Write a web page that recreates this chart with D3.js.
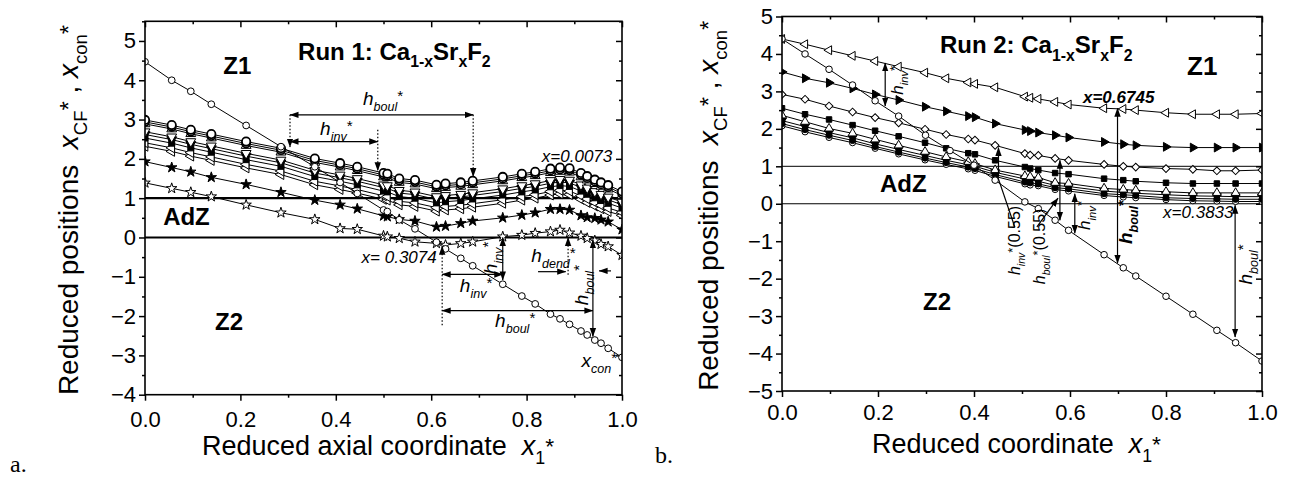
<!DOCTYPE html>
<html>
<head>
<meta charset="utf-8">
<script src="https://d3js.org/d3.v7.min.js"></script>
<style>
  body { margin: 0; background: #fff; }
  text { font-family: "Liberation Sans", Arial, sans-serif; fill: #000; }
</style>
</head>
<body>
<script>
// ---------- panel a (Run 1) ----------
var xA = [0, 0.056, 0.096, 0.139, 0.212, 0.285, 0.356, 0.409, 0.445, 0.5, 0.508, 0.533, 0.566, 0.611, 0.63,
          0.662, 0.687, 0.75, 0.79, 0.818, 0.85, 0.87, 0.89, 0.914, 0.927, 0.943, 0.956, 0.971, 1.0];
var conA = [4.47, 4.0, 3.72, 3.39, 2.85, 2.31, 1.80, 1.40, 1.12, 0.70, 0.66, 0.45, 0.22, -0.12, -0.29,
            -0.53, -0.72, -1.19, -1.49, -1.69, -1.95, -2.07, -2.21, -2.38, -2.48, -2.61, -2.69, -2.82, -3.05];
var cA1 = [2.99, 2.86, 2.74, 2.63, 2.44, 2.27, 2.01, 1.89, 1.80, 1.64, 1.62, 1.50, 1.46, 1.34, 1.37,
           1.40, 1.44, 1.54, 1.62, 1.67, 1.75, 1.78, 1.76, 1.64, 1.56, 1.47, 1.40, 1.33, 1.17];
var cA2 = [2.94, 2.81, 2.69, 2.58, 2.39, 2.22, 1.96, 1.84, 1.75, 1.59, 1.57, 1.45, 1.41, 1.29, 1.32,
           1.35, 1.39, 1.49, 1.57, 1.62, 1.70, 1.73, 1.71, 1.59, 1.51, 1.42, 1.35, 1.28, 1.12];
var cA3 = [2.89, 2.76, 2.64, 2.53, 2.34, 2.17, 1.91, 1.79, 1.70, 1.54, 1.52, 1.40, 1.36, 1.24, 1.27,
           1.30, 1.34, 1.44, 1.52, 1.57, 1.65, 1.68, 1.66, 1.54, 1.46, 1.37, 1.30, 1.23, 1.07];
var cA4 = [2.69, 2.56, 2.44, 2.33, 2.14, 1.97, 1.71, 1.59, 1.50, 1.34, 1.32, 1.20, 1.16, 1.04, 1.07,
           1.10, 1.14, 1.24, 1.32, 1.37, 1.45, 1.48, 1.46, 1.34, 1.26, 1.17, 1.10, 1.03, 0.90];
var cA5 = [2.62, 2.49, 2.37, 2.26, 2.07, 1.90, 1.64, 1.52, 1.43, 1.27, 1.25, 1.13, 1.09, 0.97, 1.00,
           1.03, 1.07, 1.17, 1.25, 1.30, 1.38, 1.41, 1.39, 1.27, 1.19, 1.10, 1.03, 0.96, 0.83];
var cA6 = [2.53, 2.40, 2.28, 2.17, 1.98, 1.81, 1.55, 1.43, 1.34, 1.18, 1.16, 1.04, 1.00, 0.88, 0.91,
           0.94, 0.98, 1.08, 1.16, 1.21, 1.29, 1.32, 1.30, 1.18, 1.10, 1.01, 0.94, 0.87, 0.75];
var cA7 = [2.41, 2.28, 2.16, 2.05, 1.86, 1.69, 1.43, 1.31, 1.22, 1.06, 1.04, 0.92, 0.88, 0.76, 0.79,
           0.82, 0.86, 0.96, 1.04, 1.09, 1.17, 1.20, 1.18, 1.06, 0.98, 0.89, 0.82, 0.75, 0.64];
var cA8 = [2.32, 2.19, 2.07, 1.96, 1.77, 1.60, 1.34, 1.22, 1.13, 0.97, 0.95, 0.83, 0.79, 0.67, 0.70,
           0.73, 0.77, 0.87, 0.95, 1.00, 1.08, 1.11, 1.09, 0.97, 0.89, 0.80, 0.73, 0.66, 0.56];
var starFA = [1.93, 1.78, 1.67, 1.53, 1.35, 1.15, 0.95, 0.83, 0.73, 0.55, 0.53, 0.46, 0.42, 0.27, 0.29,
              0.36, 0.42, 0.50, 0.57, 0.63, 0.72, 0.72, 0.70, 0.56, 0.51, 0.49, 0.45, 0.40, 0.20];
var starOA = [1.39, 1.25, 1.15, 1.04, 0.83, 0.63, 0.46, 0.23, 0.21, 0.04, 0.02, -0.02, -0.11, -0.15, -0.19,
              -0.15, -0.11, 0.02, 0.06, 0.11, 0.15, 0.19, 0.12, 0.04, -0.02, -0.08, -0.17, -0.23, -0.45];

// ---------- panel b (Run 2) ----------
var xB = [0, 0.048, 0.098, 0.147, 0.194, 0.243, 0.298, 0.342, 0.388, 0.402, 0.444, 0.506, 0.517, 0.534,
          0.569, 0.597, 0.671, 0.711, 0.737, 0.80, 0.856, 0.906, 0.945, 1.0];
var xConB = [0, 0.048, 0.098, 0.147, 0.194, 0.243, 0.299, 0.35, 0.40, 0.444, 0.506, 0.534, 0.569, 0.597,
             0.671, 0.711, 0.737, 0.80, 0.856, 0.906, 0.945, 1.0];
var conB = [4.40, 4.0, 3.59, 3.17, 2.75, 2.34, 1.83, 1.42, 1.03, 0.63, 0.05, -0.13, -0.44, -0.71,
            -1.36, -1.71, -1.93, -2.47, -2.95, -3.38, -3.71, -4.2];
var tB1 = [4.40, 4.26, 4.10, 3.95, 3.81, 3.66, 3.50, 3.35, 3.24, 3.20, 3.11, 2.86, 2.83, 2.80,
           2.72, 2.65, 2.55, 2.53, 2.50, 2.43, 2.39, 2.39, 2.39, 2.41];
var tB2 = [3.52, 3.35, 3.23, 3.08, 2.92, 2.77, 2.59, 2.47, 2.34, 2.31, 2.14, 1.97, 1.94, 1.90,
           1.83, 1.77, 1.65, 1.59, 1.56, 1.52, 1.50, 1.50, 1.50, 1.50];
var tB3 = [2.92, 2.79, 2.61, 2.45, 2.30, 2.16, 1.99, 1.85, 1.73, 1.70, 1.56, 1.34, 1.30, 1.29,
           1.21, 1.16, 1.05, 1.00, 0.98, 0.94, 0.92, 0.88, 0.88, 0.90];
var tB4 = [2.55, 2.39, 2.25, 2.10, 1.95, 1.80, 1.63, 1.48, 1.35, 1.32, 1.16, 0.98, 0.94, 0.90,
           0.82, 0.79, 0.67, 0.63, 0.60, 0.56, 0.54, 0.54, 0.54, 0.54];
var tB5 = [2.36, 2.19, 2.01, 1.88, 1.72, 1.56, 1.39, 1.25, 1.12, 1.07, 0.90, 0.74, 0.72, 0.70,
           0.56, 0.54, 0.41, 0.38, 0.36, 0.32, 0.29, 0.29, 0.29, 0.29];
var tB6 = [2.22, 2.06, 1.90, 1.76, 1.60, 1.45, 1.29, 1.16, 1.04, 1.00, 0.84, 0.66, 0.63, 0.60,
           0.49, 0.46, 0.34, 0.30, 0.28, 0.24, 0.21, 0.20, 0.19, 0.19];
var tB7 = [2.14, 1.98, 1.83, 1.69, 1.53, 1.38, 1.22, 1.10, 0.98, 0.94, 0.78, 0.58, 0.56, 0.53,
           0.43, 0.40, 0.27, 0.24, 0.22, 0.16, 0.14, 0.13, 0.12, 0.12];
var tB8 = [2.08, 1.92, 1.77, 1.63, 1.48, 1.33, 1.17, 1.05, 0.93, 0.89, 0.73, 0.53, 0.50, 0.48,
           0.38, 0.34, 0.22, 0.18, 0.16, 0.11, 0.08, 0.07, 0.06, 0.06];

// ticks
var xTicks = [0, 0.2, 0.4, 0.6, 0.8, 1.0];
var xMinor = [0.1, 0.3, 0.5, 0.7, 0.9];
var yTicksA = [-4, -3, -2, -1, 0, 1, 2, 3, 4, 5];
var yTicksB = [-5, -4, -3, -2, -1, 0, 1, 2, 3, 4, 5];

var W = 1289, H = 477;
var svg = d3.select("body").append("svg").attr("width", W).attr("height", H);
var defs = svg.append("defs");
defs.append("marker").attr("id", "ah")
    .attr("viewBox", "0 -4 9 8").attr("refX", 8.5).attr("refY", 0)
    .attr("markerWidth", 9).attr("markerHeight", 8).attr("markerUnits", "userSpaceOnUse")
    .attr("orient", "auto-start-reverse")
  .append("path").attr("d", "M0,-3.2L9,0L0,3.2Z").attr("fill", "#000");

var shapes = {
  circle: [d3.symbolCircle, 0], up: [d3.symbolTriangle, 0], down: [d3.symbolTriangle, 180],
  left: [d3.symbolTriangle, -90], right: [d3.symbolTriangle, 90], square: [d3.symbolSquare, 0],
  diamond: [d3.symbolSquare, 45], star: [d3.symbolStar, 0]
};

// text with sub / superscripts
function addText(g, px, py, parts, fs, opt) {
  opt = opt || {};
  var t = g.append("text").attr("x", px).attr("y", py)
    .attr("font-size", fs).attr("text-anchor", opt.anchor || "start")
    .style("white-space", "pre");
  if (opt.bold) t.attr("font-weight", "bold");
  if (opt.italic) t.attr("font-style", "italic");
  if (opt.family) t.style("font-family", opt.family);
  if (opt.rot) t.attr("transform", "rotate(" + opt.rot + "," + px + "," + py + ")");
  var off = 0;
  parts.forEach(function(p) {
    if (typeof p === "string") p = {t: p};
    var target = p.sub ? fs * 0.32 : (p.sup ? -fs * (p.up || 0.05) : 0);
    var ts = t.append("tspan").attr("dy", target - off).text(p.t);
    if (p.sub || p.sup) ts.attr("font-size", fs * (p.k || 0.66));
    if (p.i) ts.attr("font-style", "italic");
    if (p.n) ts.attr("font-style", "normal");
    off = target;
  });
  return t;
}

function hLabel(sub) {
  return [{t: "h", i: 1}, {t: sub, sub: 1, i: 1}, {t: "*", sup: 1, k: 0.8, up: 0.22}];
}

function panel(o) {
  var x = d3.scaleLinear().domain([0, 1]).range([o.left, o.right]);
  var y = d3.scaleLinear().domain(o.ydom).range([o.bottom, o.top]);
  var g = svg.append("g");

  defs.append("clipPath").attr("id", o.id + "clip")
    .append("rect").attr("x", o.left).attr("y", o.top)
    .attr("width", o.right - o.left).attr("height", o.bottom - o.top);

  // axes
  var yMinor = d3.range(o.ydom[0], o.ydom[1] + 0.01, 0.5).filter(function(v) { return v % 1 !== 0; });
  function style(a) {
    a.select(".domain").remove();
    a.selectAll("line").attr("stroke", "#000").attr("stroke-width", 1.5);
    a.selectAll("text").attr("font-size", 22).style("font-family", '"Liberation Sans", Arial, sans-serif');
  }
  g.append("g").attr("transform", "translate(0," + o.bottom + ")")
    .call(d3.axisBottom(x).tickValues(xTicks).tickFormat(d3.format(".1f")).tickSize(6).tickPadding(o.xpad))
    .call(style);
  g.append("g").attr("transform", "translate(0," + o.bottom + ")")
    .call(d3.axisBottom(x).tickValues(xMinor).tickFormat("").tickSize(3)).call(style);
  g.append("g").attr("transform", "translate(" + o.left + ",0)")
    .call(d3.axisLeft(y).tickValues(o.yticks).tickFormat(d3.format("d")).tickSize(6).tickPadding(3))
    .call(style);
  g.append("g").attr("transform", "translate(" + o.left + ",0)")
    .call(d3.axisLeft(y).tickValues(yMinor).tickFormat("").tickSize(3)).call(style);
  g.append("g").attr("transform", "translate(0," + o.top + ")")
    .call(d3.axisTop(x).tickValues(xTicks).tickFormat("").tickSize(-6)).call(style);
  g.append("g").attr("transform", "translate(0," + o.top + ")")
    .call(d3.axisTop(x).tickValues(xMinor).tickFormat("").tickSize(-3)).call(style);
  g.append("g").attr("transform", "translate(" + o.right + ",0)")
    .call(d3.axisRight(y).tickValues(o.yticks).tickFormat("").tickSize(-6)).call(style);
  g.append("g").attr("transform", "translate(" + o.right + ",0)")
    .call(d3.axisRight(y).tickValues(yMinor).tickFormat("").tickSize(-3)).call(style);

  // reference lines y = 0 and y = 1
  g.selectAll("line.ref").data([0, 1]).enter().append("line")
    .attr("x1", o.left).attr("x2", o.right)
    .attr("y1", function(d) { return y(d); }).attr("y2", function(d) { return y(d); })
    .attr("stroke", "#000").attr("stroke-width", o.refW);

  var plot = g.append("g").attr("clip-path", "url(#" + o.id + "clip)");
  var line = d3.line().x(function(d) { return x(d[0]); }).y(function(d) { return y(d[1]); });

  o.series.forEach(function(s) {
    var pts = s.xs.map(function(v, i) { return [v, s.ys[i]]; });
    plot.append("path").datum(pts).attr("d", line)
      .attr("fill", "none").attr("stroke", "#000").attr("stroke-width", 1);
    var sh = shapes[s.shape];
    plot.selectAll(null).data(pts).enter().append("path")
      .attr("d", d3.symbol().type(sh[0]).size(s.size))
      .attr("transform", function(d) { return "translate(" + x(d[0]) + "," + y(d[1]) + ") rotate(" + sh[1] + ")"; })
      .attr("fill", s.fill).attr("stroke", "#000").attr("stroke-width", s.sw || 1);
  });

  // arrows
  o.arrows.forEach(function(a) {
    var l = g.append("line")
      .attr("x1", x(a.x1)).attr("y1", y(a.y1)).attr("x2", x(a.x2)).attr("y2", y(a.y2))
      .attr("stroke", "#000").attr("stroke-width", 1.2);
    if (a.dash) l.attr("stroke-dasharray", "1.5,2");
    if (a.s) l.attr("marker-start", "url(#ah)");
    if (a.e) l.attr("marker-end", "url(#ah)");
  });

  o.labels.forEach(function(L) {
    addText(g, x(L.x), y(L.y), L.parts, L.fs, L);
  });

  // axis titles
  addText(g, o.xtX, o.xtY, ["Reduced " + o.xtitle + "coordinate\u00a0 ", {t: "x", i: 1}, {t: "1", sub: 1},
    {t: "*", sup: 1, k: 0.85}], 27);
  addText(g, o.ytX, (o.top + o.bottom) / 2 + 2,
    ["Reduced positions\u00a0 ", {t: "x", i: 1}, {t: "CF", sub: 1}, {t: "*", sup: 1, k: 0.85}, {t: " , "},
     {t: "x", i: 1}, {t: "con", sub: 1}, {t: "*", sup: 1, k: 0.85}], 28, {anchor: "middle", rot: -90});

  // frame
  g.append("rect").attr("x", o.left).attr("y", o.top)
    .attr("width", o.right - o.left).attr("height", o.bottom - o.top)
    .attr("fill", "none").attr("stroke", "#000").attr("stroke-width", 1.6);
}

var runA = ["Run 1: Ca", {t: "1-x", sub: 1}, "Sr", {t: "x", sub: 1}, "F", {t: "2", sub: 1}];
var runB = ["Run 2: Ca", {t: "1-x", sub: 1}, "Sr", {t: "x", sub: 1}, "F", {t: "2", sub: 1}];

panel({
  id: "a", left: 145, right: 622, top: 21.3, bottom: 394.7, ydom: [-4, 5.5], yticks: yTicksA,
  xpad: 10.5, refW: 2.2, xtitle: "axial ", xtX: 202, xtY: 455, ytX: 78,
  series: [
    {xs: xA, ys: starOA, shape: "star", fill: "#fff", size: 34},
    {xs: xA, ys: starFA, shape: "star", fill: "#000", size: 34},
    {xs: xA, ys: cA8, shape: "left", fill: "#fff", size: 42},
    {xs: xA, ys: cA7, shape: "left", fill: "#fff", size: 42},
    {xs: xA, ys: cA6, shape: "square", fill: "#000", size: 36},
    {xs: xA, ys: cA5, shape: "down", fill: "#000", size: 42},
    {xs: xA, ys: cA4, shape: "down", fill: "#fff", size: 42},
    {xs: xA, ys: cA3, shape: "up", fill: "#fff", size: 42},
    {xs: xA, ys: cA2, shape: "circle", fill: "#fff", size: 50, sw: 1.8},
    {xs: xA, ys: cA1, shape: "circle", fill: "#fff", size: 55, sw: 1.8},
    {xs: xA, ys: conA, shape: "circle", fill: "#fff", size: 36}
  ],
  arrows: [
    {x1: 0.304, y1: 3.12, x2: 0.688, y2: 3.12, s: 1, e: 1},
    {x1: 0.304, y1: 2.44, x2: 0.488, y2: 2.44, s: 1, e: 1},
    {x1: 0.304, y1: 3.12, x2: 0.304, y2: 2.30, dash: 1, e: 1},
    {x1: 0.488, y1: 2.74, x2: 0.488, y2: 1.70, dash: 1, e: 1},
    {x1: 0.688, y1: 3.12, x2: 0.688, y2: 1.55, dash: 1, e: 1},
    {x1: 0.623, y1: -2.23, x2: 0.623, y2: -0.22, dash: 1, e: 1},
    {x1: 0.623, y1: -0.94, x2: 0.75, y2: -0.94, s: 1, e: 1},
    {x1: 0.75, y1: 0.0, x2: 0.75, y2: -1.08, s: 1, e: 1},
    {x1: 0.623, y1: -1.86, x2: 0.939, y2: -1.86, s: 1, e: 1},
    {x1: 0.939, y1: -0.06, x2: 0.939, y2: -2.52, s: 1, e: 1},
    {x1: 0.887, y1: -0.95, x2: 0.887, y2: 0.0, dash: 1, e: 1},
    {x1: 0.824, y1: -0.87, x2: 0.882, y2: -0.87, e: 1},
    {x1: 0.977, y1: -0.85, x2: 0.952, y2: -0.85, e: 1}
  ],
  labels: [
    {x: 0.164, y: 4.16, parts: ["Z1"], fs: 24, bold: 1},
    {x: 0.321, y: 4.52, parts: runA, fs: 24, bold: 1},
    {x: 0.038, y: 0.32, parts: ["AdZ"], fs: 24, bold: 1},
    {x: 0.147, y: -2.35, parts: ["Z2"], fs: 24, bold: 1},
    {x: 0.832, y: 1.93, parts: ["x=0.0073"], fs: 17, italic: 1},
    {x: 0.454, y: -0.66, parts: ["x= 0.3074"], fs: 17, italic: 1},
    {x: 0.915, y: -3.29, parts: [{t: "x", i: 1}, {t: "con", sub: 1, i: 1}, {t: "*", sup: 1, k: 0.8, up: 0.22}], fs: 19},
    {x: 0.457, y: 3.37, parts: hLabel("boul"), fs: 19},
    {x: 0.367, y: 2.61, parts: hLabel("inv"), fs: 19},
    {x: 0.66, y: -1.38, parts: hLabel("inv"), fs: 19},
    {x: 0.734, y: -2.27, parts: hLabel("boul"), fs: 19},
    {x: 0.81, y: -0.62, parts: hLabel("dend"), fs: 19},
    {x: 0.738, y: -0.52, parts: hLabel("inv"), fs: 19, anchor: "middle", rot: -90},
    {x: 0.929, y: -1.21, parts: hLabel("boul"), fs: 19, anchor: "middle", rot: -90}
  ]
});

panel({
  id: "b", left: 782, right: 1262, top: 16.5, bottom: 391, ydom: [-5, 5], yticks: yTicksB,
  xpad: 7, refW: 1, xtitle: "", xtX: 872, xtY: 453, ytX: 718,
  series: [
    {xs: xB, ys: tB8, shape: "circle", fill: "#fff", size: 30},
    {xs: xB, ys: tB7, shape: "circle", fill: "#000", size: 30},
    {xs: xB, ys: tB6, shape: "down", fill: "#000", size: 34},
    {xs: xB, ys: tB5, shape: "up", fill: "#fff", size: 34},
    {xs: xB, ys: tB4, shape: "square", fill: "#000", size: 30},
    {xs: xB, ys: tB3, shape: "diamond", fill: "#fff", size: 30},
    {xs: xB, ys: tB2, shape: "right", fill: "#000", size: 34},
    {xs: xB, ys: tB1, shape: "left", fill: "#fff", size: 34},
    {xs: xConB, ys: conB, shape: "circle", fill: "#fff", size: 34}
  ],
  arrows: [
    {x1: 0.215, y1: 3.76, x2: 0.215, y2: 2.61, s: 1, e: 1},
    {x1: 0.699, y1: 2.55, x2: 0.699, y2: -1.59, s: 1, e: 1},
    {x1: 0.944, y1: -0.04, x2: 0.944, y2: -3.56, s: 1, e: 1},
    {x1: 0.579, y1: 1.16, x2: 0.579, y2: -0.44, s: 1, e: 1},
    {x1: 0.610, y1: 0.27, x2: 0.610, y2: -0.79, s: 1, e: 1},
    {x1: 0.451, y1: 0.72, x2: 0.451, y2: 1.50, e: 1},
    {x1: 0.447, y1: 0.81, x2: 0.485, y2: -0.62},
    {x1: 0.531, y1: -0.62, x2: 0.575, y2: 0.15, e: 1}
  ],
  labels: [
    {x: 0.329, y: 4.02, parts: runB, fs: 24, bold: 1},
    {x: 0.844, y: 3.44, parts: ["Z1"], fs: 26, bold: 1},
    {x: 0.627, y: 2.69, parts: ["x=0.6745"], fs: 17, bold: 1, italic: 1},
    {x: 0.204, y: 0.32, parts: ["AdZ"], fs: 24, bold: 1},
    {x: 0.294, y: -2.85, parts: ["Z2"], fs: 24, bold: 1},
    {x: 0.794, y: -0.39, parts: ["x=0.3833"], fs: 17, italic: 1},
    {x: 0.252, y: 3.30, parts: hLabel("inv"), fs: 17, anchor: "middle", rot: -90},
    {x: 0.729, y: -0.49, parts: hLabel("boul"), fs: 19, bold: 1, anchor: "middle", rot: -90},
    {x: 0.98, y: -1.62, parts: hLabel("boul"), fs: 19, anchor: "middle", rot: -90},
    {x: 0.642, y: -0.31, parts: hLabel("inv"), fs: 17, anchor: "middle", rot: -90},
    {x: 0.496, y: -0.98, parts: hLabel("inv").concat(["(0.55)"]), fs: 16, anchor: "middle", rot: -90},
    {x: 0.548, y: -1.14, parts: hLabel("boul").concat(["(0.55)"]), fs: 16, anchor: "middle", rot: -90}
  ]
});

// panel letters
addText(svg, 10, 472, ["a."], 24, {family: '"Liberation Serif", "Times New Roman", serif'});
addText(svg, 655, 463, ["b."], 24, {family: '"Liberation Serif", "Times New Roman", serif'});
</script>
</body>
</html>
